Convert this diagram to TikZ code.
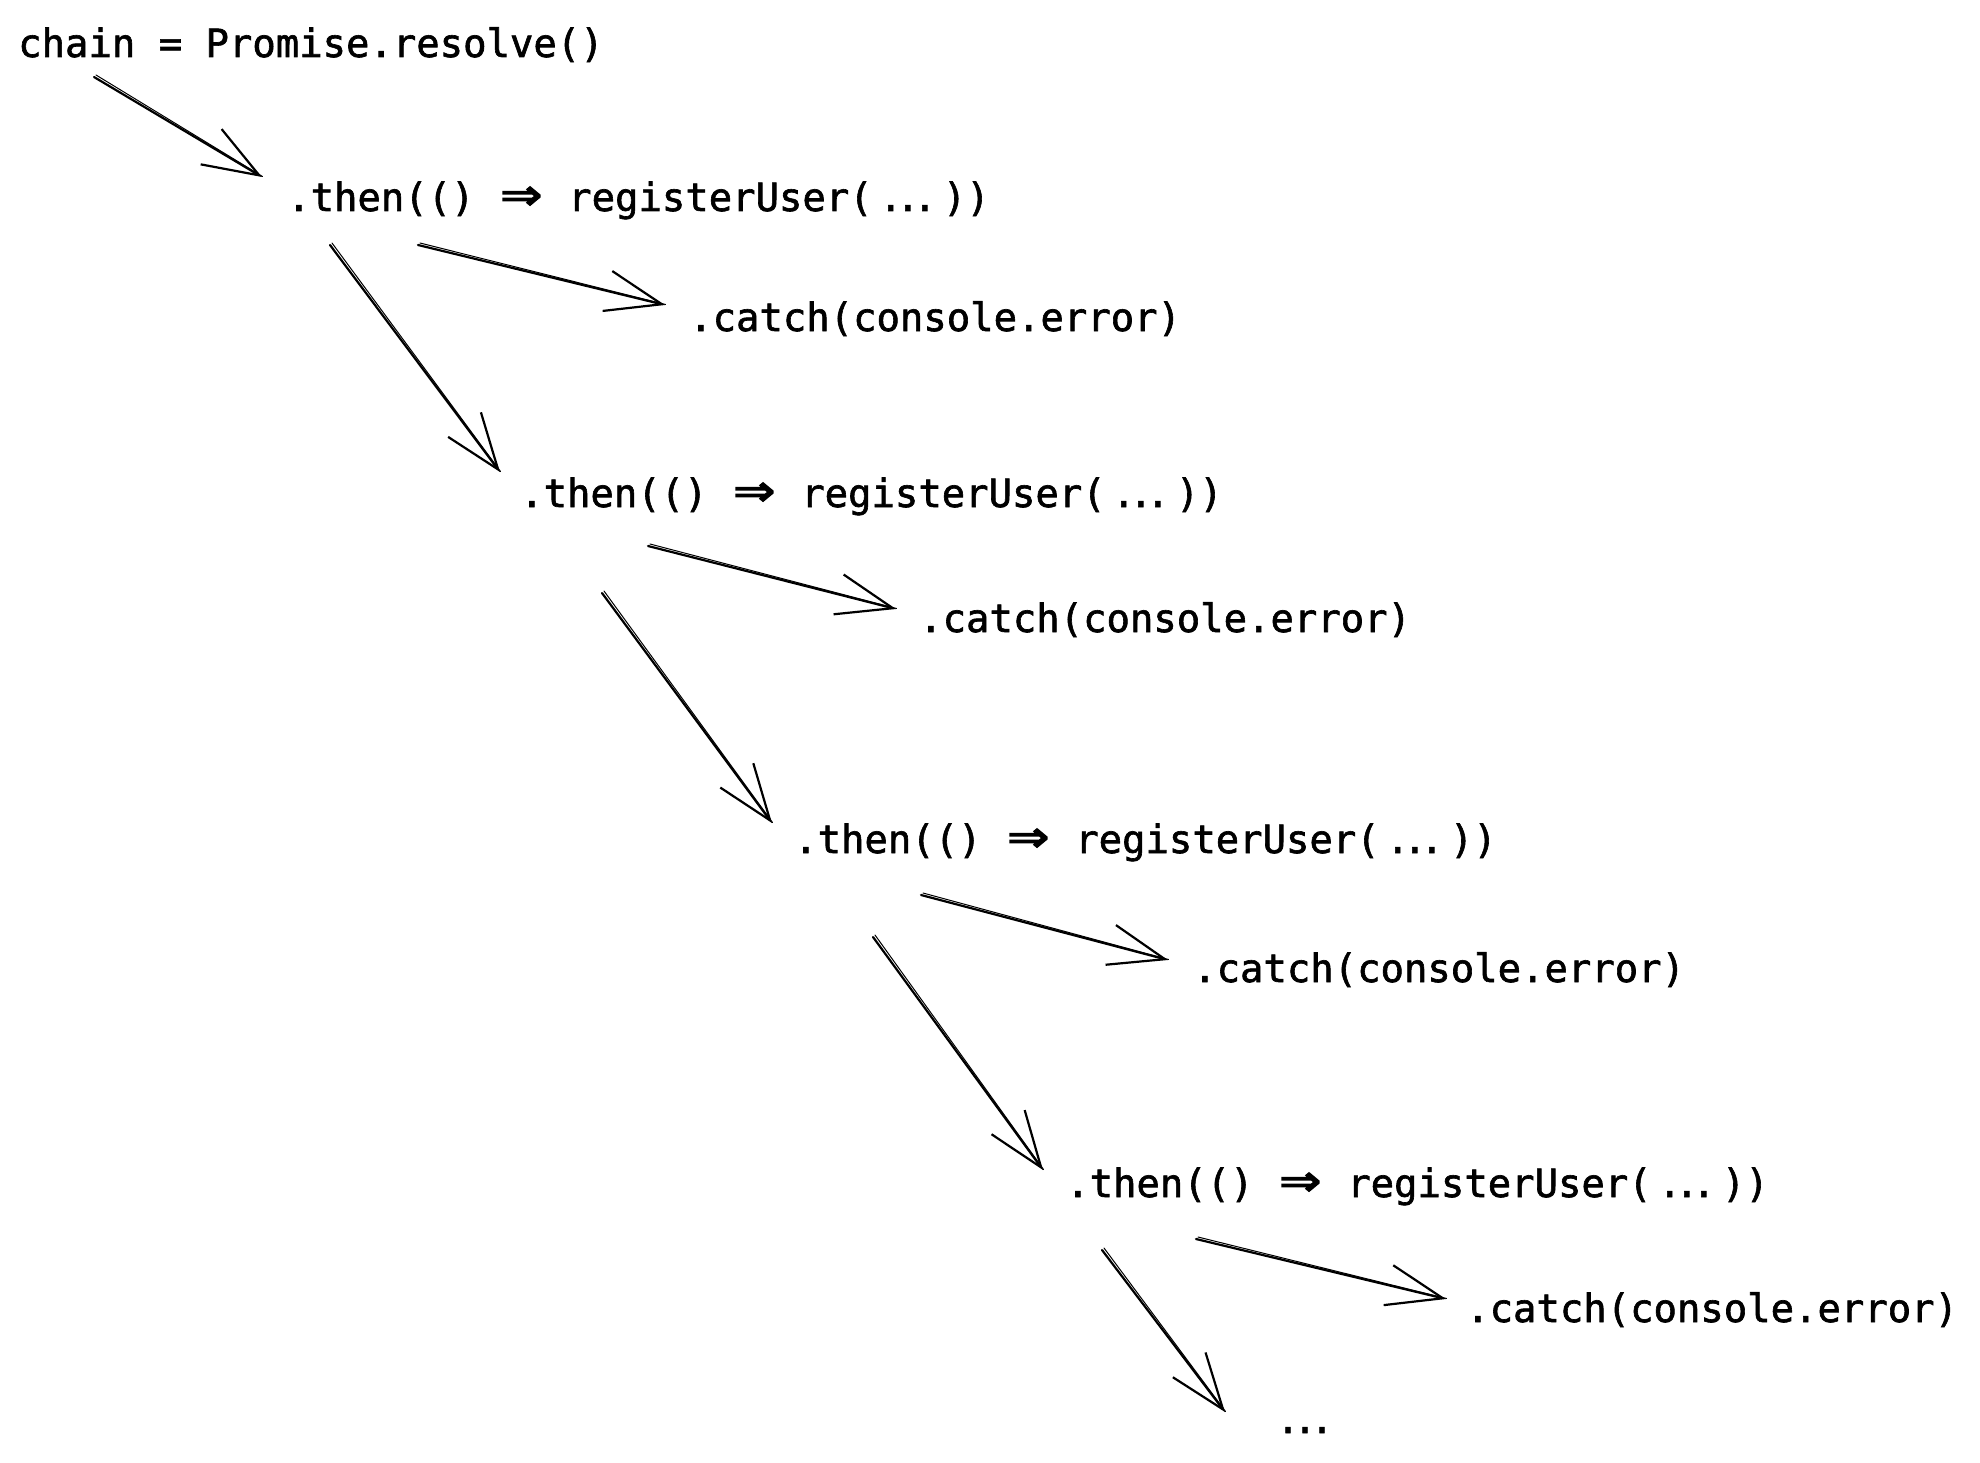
\documentclass[tikz,border=0pt]{standalone}
\usepackage{fontspec}
\newfontfamily\codeff[FakeBold=1.6]{DejaVu Sans Mono}
\newfontfamily\arrowff[FakeBold=2.5]{DejaVu Sans Mono}
\usetikzlibrary{arrows.meta}
\newlength\cw
\newcommand\codefont{\codeff\fontsize{38.9pt}{46pt}\selectfont}
\newcommand\fatarrow{\settowidth\cw{0}\makebox[2\cw][c]{\raisebox{-0.5pt}{\arrowff\scalebox{1.75}[1.45]{⇒}}}}
\newcommand\tightdots{\settowidth\cw{0}\makebox[3\cw][c]{.\kern-6.4pt.\kern-6.4pt.}}
\newcommand\thentext{.then(() \fatarrow{} registerUser(\tightdots))}
\tikzset{
  code/.style={font=\codefont, inner sep=0pt, anchor=base west},
  conn/.style={line width=2.2pt, line cap=round,
    -{Straight Barb[length=56pt,width=41pt,line width=2.2pt]}},
  ghost/.style={line width=1pt, line cap=round}
}
\begin{document}
\begin{tikzpicture}[x=1pt,y=-1pt]
\useasboundingbox (0,0) rectangle (1980,1463);
% texts
\node[code] (chain) at (18,57) {chain = Promise.resolve()};
\node[code] (then1) at (287,211) {\thentext};
\node[code] (catch1) at (689,331) {.catch(console.error)};
\node[code] (then2) at (520,507) {\thentext};
\node[code] (catch2) at (919,632) {.catch(console.error)};
\node[code] (then3) at (794,853) {\thentext};
\node[code] (catch3) at (1193,982) {.catch(console.error)};
\node[code] (then4) at (1066,1197) {\thentext};
\node[code] (catch4) at (1466,1322) {.catch(console.error)};
\node[font=\codefont, inner sep=0pt, anchor=base] (more) at (1305,1433) {\tightdots};
% arrow end points
\coordinate (a0s) at (94,77);    \coordinate (a0e) at (262,177);
\coordinate (c1s) at (418,245);  \coordinate (c1e) at (665,305);
\coordinate (d1s) at (330,245);  \coordinate (d1e) at (500,472);
\coordinate (c2s) at (648,546);  \coordinate (c2e) at (896,609);
\coordinate (d2s) at (602,593);  \coordinate (d2e) at (772,823);
\coordinate (c3s) at (921,895);  \coordinate (c3e) at (1168,960);
\coordinate (d3s) at (873,937);  \coordinate (d3e) at (1043,1170);
\coordinate (c4s) at (1196,1239); \coordinate (c4e) at (1446,1299);
\coordinate (d4s) at (1102,1250); \coordinate (d4e) at (1225,1412);
% arrows
\foreach \s/\e in {a0s/a0e,c1s/c1e,d1s/d1e,c2s/c2e,d2s/d2e,c3s/c3e,d3s/d3e,c4s/c4e,d4s/d4e}{
  \draw[conn] (\s) -- (\e);
  \draw[ghost] ([shift={(2,-2)}]\s) -- ([shift={(0.5,-0.5)}]\e);
}
\end{tikzpicture}
\end{document}
